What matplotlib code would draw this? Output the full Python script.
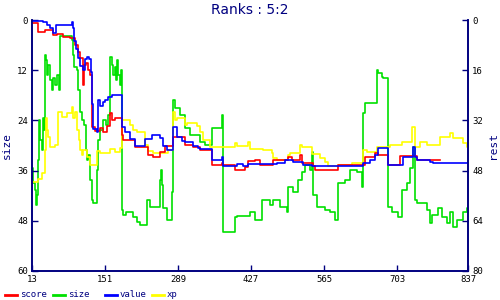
import matplotlib
matplotlib.use('Agg')
import matplotlib.pyplot as plt
from matplotlib.lines import Line2D

navy = '#000080'

# score (red)
score_x = [13, 24, 38, 53, 60, 72, 85, 94, 100, 104, 109, 111, 115, 119, 123, 126, 132, 142, 147, 155,
           160, 164, 170, 183, 185, 208, 232, 242, 255, 264, 280, 302, 317, 331, 353, 372, 374, 397, 416,
           421, 434, 444, 469, 497, 504, 520, 523, 544, 548, 591, 642, 661, 667, 686, 709, 741, 784]
score_y = [0.7, 2.9, 2.4, 3.6, 3.3, 4.1, 4.3, 6.0, 7.7, 9.1, 15.6, 10.8, 10.3, 12.0, 13.2, 25.6, 26.6, 25.8,
           26.8, 25.4, 22.2, 23.9, 23.4, 27.5, 28.7, 30.4, 32.3, 32.8, 31.6, 30.0, 28.0, 29.9, 30.4, 31.1,
           34.7, 34.2, 34.7, 35.9, 35.2, 33.7, 33.5, 34.7, 33.5, 32.8, 33.5, 32.3, 34.2, 35.0, 35.9, 34.7,
           32.8, 31.8, 32.3, 34.7, 32.5, 33.5, 33.5]

# size (green)
size_x = [13, 15, 19, 20, 22, 24, 26, 28, 32, 34, 36, 38, 39, 41, 43, 47, 51, 53, 56, 60, 64, 66, 89, 90,
          92, 98, 100, 104, 108, 111, 115, 117, 119, 123, 126, 128, 136, 138, 142, 147, 153, 157, 160, 164,
          166, 170, 172, 174, 176, 179, 181, 183, 185, 191, 204, 211, 217, 230, 236, 255, 257, 259, 261,
          268, 278, 280, 283, 293, 302, 312, 331, 340, 353, 372, 374, 397, 400, 425, 434, 448, 463, 469,
          482, 495, 497, 506, 516, 523, 529, 538, 542, 544, 551, 567, 576, 586, 591, 605, 614, 627, 637,
          639, 642, 665, 667, 675, 677, 686, 694, 705, 712, 722, 727, 733, 737, 741, 760, 765, 769, 780,
          788, 797, 803, 808, 816, 827, 835, 837]
size_y = [35.4, 39.0, 40.7, 44.3, 41.9, 33.5, 24.0, 28.7, 31.1, 23.4, 26.3, 8.4, 9.6, 13.2, 10.8, 14.4,
          16.7, 13.9, 15.6, 13.2, 16.7, 3.8, 4.8, 8.4, 11.2, 12.0, 16.7, 22.0, 23.9, 25.1, 31.1, 33.5,
          32.3, 38.3, 43.1, 43.8, 35.9, 28.7, 26.3, 23.9, 25.1, 22.7, 8.9, 10.8, 13.2, 11.2, 14.4, 9.6,
          13.2, 15.6, 12.0, 45.5, 46.7, 45.9, 47.1, 48.3, 49.0, 43.1, 44.7, 38.3, 35.9, 39.5, 45.0, 47.8,
          41.1, 19.1, 21.1, 22.7, 25.8, 27.5, 29.2, 29.9, 25.8, 22.7, 50.7, 47.1, 46.9, 45.9, 47.8, 43.1,
          44.3, 43.1, 44.7, 45.9, 40.0, 41.1, 38.3, 36.4, 34.7, 35.9, 31.6, 41.9, 44.7, 45.5, 45.9, 47.8,
          39.0, 38.3, 35.9, 36.4, 40.0, 22.2, 19.9, 12.0, 12.7, 13.6, 13.9, 44.7, 45.9, 47.1, 40.7, 39.0,
          35.4, 30.4, 43.1, 43.8, 45.5, 48.6, 46.7, 45.0, 47.1, 48.6, 45.9, 49.5, 47.8, 45.9, 45.0, 45.0]

# value (blue)
value_x = [13, 34, 41, 47, 53, 58, 89, 90, 93, 97, 100, 104, 109, 113, 117, 121, 124, 126, 128, 136, 138,
           142, 147, 151, 157, 164, 183, 189, 198, 208, 227, 240, 255, 261, 268, 280, 287, 297, 302, 317,
           327, 331, 353, 372, 374, 400, 412, 421, 476, 491, 506, 525, 542, 639, 652, 661, 667, 686, 714,
           733, 737, 741, 765, 771, 837]
value_y = [0.2, 0.5, 1.2, 1.9, 3.1, 1.2, 0.5, 2.0, 5.0, 7.0, 9.0, 11.0, 12.0, 9.3, 8.8, 9.3, 12.5, 20.0,
           26.0, 26.8, 19.0, 20.5, 19.5, 19.0, 18.5, 18.0, 25.5, 26.8, 28.5, 30.0, 28.5, 27.5, 28.2, 30.0,
           31.0, 25.5, 28.0, 29.0, 29.2, 30.0, 30.6, 30.8, 33.5, 32.8, 34.9, 34.4, 34.9, 34.4, 34.2, 33.5,
           34.0, 34.7, 34.9, 34.2, 33.5, 32.3, 30.6, 34.7, 32.8, 30.4, 32.8, 33.5, 34.0, 34.2, 34.2]

# xp (yellow)
xp_x = [13, 24, 32, 38, 39, 41, 43, 47, 56, 62, 70, 79, 89, 90, 94, 98, 102, 104, 108, 109, 117, 123, 136,
        142, 160, 170, 179, 183, 198, 204, 211, 227, 232, 242, 270, 280, 283, 287, 302, 306, 325, 331, 336,
        349, 397, 400, 421, 425, 450, 467, 469, 476, 497, 501, 520, 523, 542, 557, 567, 572, 591, 618, 639,
        646, 665, 690, 712, 731, 737, 746, 760, 784, 803, 808, 827, 835, 837]
xp_y = [38.8, 38.0, 36.6, 31.1, 23.4, 26.3, 28.0, 30.4, 29.9, 22.0, 23.2, 22.2, 20.8, 23.4, 22.0, 26.3,
        28.7, 31.1, 32.3, 31.1, 32.8, 34.7, 31.3, 31.8, 30.9, 31.6, 30.6, 23.9, 25.1, 26.3, 26.8, 29.9,
        31.3, 31.8, 31.1, 22.0, 23.9, 23.4, 25.1, 24.6, 25.4, 26.8, 28.7, 30.4, 29.4, 30.1, 29.2, 30.9,
        31.1, 31.8, 33.0, 33.5, 32.3, 31.8, 29.9, 30.4, 32.0, 33.0, 34.0, 34.9, 34.7, 34.2, 31.1, 31.6,
        30.4, 29.9, 29.2, 25.6, 30.4, 29.2, 29.9, 28.0, 27.0, 28.2, 29.4, 30.4, 30.4]

xticks = [13, 151, 289, 427, 565, 703, 837]
left_ticks = [0, 12, 24, 36, 48, 60]
right_ticks = [0, 16, 32, 48, 64, 80]

series = [
    ('score', score_x, score_y, '#ff0000', 3),
    ('size', size_x, size_y, '#00e000', 1),
    ('value', value_x, value_y, '#0000ff', 4),
    ('xp', xp_x, xp_y, '#ffff00', 2),
]

fig = plt.figure(figsize=(5, 3), dpi=100, facecolor='white')
ax = fig.add_axes([0.064, 0.097, 0.872, 0.836])

for name, xs, ys, col, z in series:
    ax.plot(xs, ys, drawstyle='steps-post', color=col, lw=1.2, zorder=z)

ax.set_xlim(13, 837)
ax.set_ylim(60, 0)
ax.set_xticks(xticks)
ax.set_yticks(left_ticks)
ax.spines['top'].set_visible(False)
for s in ['left', 'bottom', 'right']:
    ax.spines[s].set_color(navy)
    ax.spines[s].set_linewidth(1.2)
ax.tick_params(direction='in', length=4, width=1, color=navy, labelsize=6.5, pad=3)
for lab in ax.get_xticklabels() + ax.get_yticklabels():
    lab.set_family('DejaVu Sans Mono')
ax.set_ylabel('size', color=navy, fontsize=8, family='DejaVu Sans Mono', labelpad=4)

ax2 = ax.twinx()
ax2.set_ylim(80, 0)
ax2.set_yticks(right_ticks)
ax2.spines['top'].set_visible(False)
for s in ['left', 'bottom', 'right']:
    ax2.spines[s].set_color(navy)
    ax2.spines[s].set_linewidth(1.2)
ax2.tick_params(direction='in', length=4, width=1, color=navy, labelsize=6.5, pad=3)
for lab in ax2.get_yticklabels():
    lab.set_family('DejaVu Sans Mono')
ax2.set_ylabel('rest', color=navy, fontsize=8, family='DejaVu Sans Mono', labelpad=4)

fig.text(0.5, 0.965, 'Ranks : 5:2', ha='center', va='center', color=navy, fontsize=10,
         family='DejaVu Sans')

# legend along the bottom
leg_x = [0.01, 0.106, 0.21, 0.304]
for (name, xs, ys, col, z), lx in zip(series, leg_x):
    fig.add_artist(Line2D([lx, lx + 0.024], [0.018, 0.018], color=col, lw=2,
                          transform=fig.transFigure))
    fig.text(lx + 0.03, 0.018, name, ha='left', va='center', fontsize=6.5,
             family='DejaVu Sans Mono', color=navy)

fig.savefig('out.png', dpi=100, facecolor='white')
